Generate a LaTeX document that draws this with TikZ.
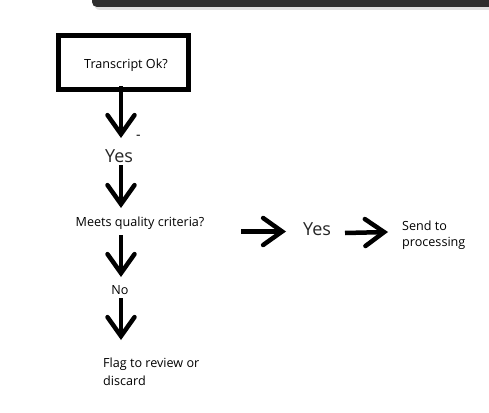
\documentclass[tikz,border=0pt]{standalone}
\usepackage{fontspec}
\setmainfont{Open Sans}
\usetikzlibrary{arrows.meta}
\begin{document}
\begin{tikzpicture}[x=1pt,y=-1pt,
  arr/.style={line width=4.5pt,-{Straight Barb[length=19pt,width=27pt,line cap=round]}},
  lbl/.style={inner sep=0pt,font=\fontsize{12.6}{15}\selectfont},
  big/.style={inner sep=0pt,font=\fontsize{18}{20}\selectfont,text=black!85}]
\useasboundingbox[fill=white] (0,0) rectangle (489,412);
% dark window bar at top
\fill[black!12] (94,0) -- (94,4) to[out=-90,in=180] (100,10) -- (489,10) -- (489,0) -- cycle;
\fill[black!82] (92,0) -- (92,2) to[out=-90,in=180] (97,7) -- (489,7) -- (489,0) -- cycle;
% box
\node[draw,line width=5pt,minimum width=130pt,minimum height=54.5pt,inner sep=0pt] (box) at (123.5,62.5) {};
\node[lbl] (t1) at (126,65) {Transcript Ok?};
\node[big] (yes1) at (119,156) {Yes};
\node[inner sep=0pt,font=\fontsize{14}{14}\selectfont] (dash) at (138.5,137.5) {-};
\node[lbl] (meets) at (140,223) {Meets quality criteria?};
\node[lbl] (no) at (120,290) {No};
\node[lbl,align=left,anchor=west,font=\fontsize{12.6}{18}\selectfont] (flag) at (103,372) {Flag to review or\\discard};
\node[big] (yes2) at (317,229) {Yes};
\node[lbl,align=left,anchor=west,font=\fontsize{12.6}{16}\selectfont] (send) at (402,235) {Send to\\processing};
% connector ends
\coordinate (a1s) at (121,86);  \coordinate (a1e) at (121,138);
\coordinate (a2s) at (121,165); \coordinate (a2e) at (121,208);
\coordinate (a3s) at (121,235); \coordinate (a3e) at (121,277);
\coordinate (a4s) at (121,298); \coordinate (a4e) at (121,340);
\coordinate (h1s) at (241,231.5); \coordinate (h1e) at (286,231.5);
\coordinate (h2s) at (345,233); \coordinate (h2e) at (388,232);
\draw[arr] (a1s) -- (a1e);
\draw[arr] (a2s) -- (a2e);
\draw[arr] (a3s) -- (a3e);
\draw[arr] (a4s) -- (a4e);
\draw[arr] (h1s) -- (h1e);
\draw[arr] (h2s) -- (h2e);
\end{tikzpicture}
\end{document}
